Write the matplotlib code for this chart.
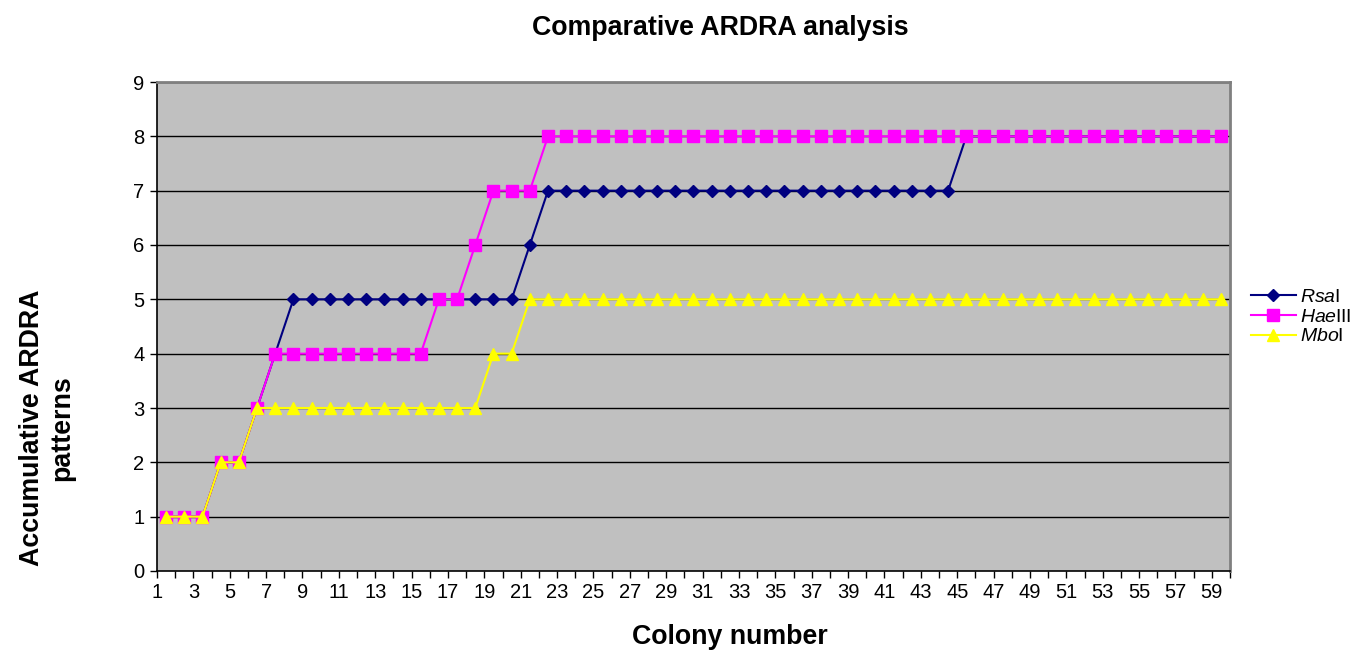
import matplotlib
matplotlib.use("Agg")
import matplotlib.pyplot as plt

plt.rcParams['font.family'] = ['Liberation Sans', 'DejaVu Sans']
plt.rcParams['mathtext.fontset'] = 'custom'
plt.rcParams['mathtext.it'] = 'Liberation Sans:italic'
plt.rcParams['mathtext.rm'] = 'Liberation Sans'

# accumulated patterns per colony (colonies 1..59)
colonies = list(range(1, 60))
rsa = [1]*3 + [2]*2 + [3] + [4] + [5]*13 + [6] + [7]*23 + [8]*15
hae = [1]*3 + [2]*2 + [3] + [4]*9 + [5]*2 + [6] + [7]*3 + [8]*38
mbo = [1]*3 + [2]*2 + [3]*13 + [4]*2 + [5]*39
series_names = [r"$\mathit{Rsa}$I", r"$\mathit{Hae}$III", r"$\mathit{Mbo}$I"]

fig = plt.figure(figsize=(13.58, 6.52), dpi=100)
ax = fig.add_axes([157/1358, 1-571/652, (1230-157)/1358, (571-82)/652])
ax.set_facecolor('#C0C0C0')

ax.plot(colonies, rsa, color='#000080', lw=1.5, marker='D', ms=6.5, label=series_names[0], zorder=3)
ax.plot(colonies, hae, color='#FF00FF', lw=1.5, marker='s', ms=8, label=series_names[1], zorder=4)
ax.plot(colonies, mbo, color='#FFFF00', lw=1.5, marker='^', ms=8.5, label=series_names[2], zorder=5)

ax.set_xlim(0.5, 59.5)
ax.set_ylim(0, 9)
ax.set_yticks(range(0, 10))
for y in range(1, 10):
    ax.axhline(y, color='black', lw=1, zorder=1)

# tick marks on category boundaries, labels on every other one
ax.set_xticks([c - 0.5 for c in colonies] + [59.5], minor=True)
ax.set_xticks([c - 0.5 for c in colonies if c % 2 == 1])
ax.set_xticklabels([str(c) for c in colonies if c % 2 == 1])
ax.tick_params(axis='x', which='both', direction='out', length=5, width=1, labelsize=14.5, pad=4)
ax.tick_params(axis='y', direction='out', length=5, width=1, labelsize=14.5, pad=4)

for side in ('top', 'right'):
    ax.spines[side].set_color('#808080')
    ax.spines[side].set_linewidth(2)
for side in ('left', 'bottom'):
    ax.spines[side].set_color('black')
    ax.spines[side].set_linewidth(1.2)

fig.text(720/1358, 1-28/652, 'Comparative ARDRA analysis', ha='center', va='center',
         fontsize=19.3, fontweight='bold')
fig.text(730/1358, 1-637/652, 'Colony number', ha='center', va='center',
         fontsize=19.3, fontweight='bold')
fig.text(47/1358, 1-428/652, 'Accumulative ARDRA\npatterns', ha='center', va='center',
         rotation=90, fontsize=19.3, fontweight='bold', linespacing=1.2)

ax.legend(loc='center left', bbox_to_anchor=(1251/1358, 1-317/652), bbox_transform=fig.transFigure,
          frameon=False, fontsize=14, handlelength=2.3, handletextpad=0.2, labelspacing=0.1,
          borderaxespad=0, borderpad=0.0)

fig.savefig('out.png', dpi=100)
